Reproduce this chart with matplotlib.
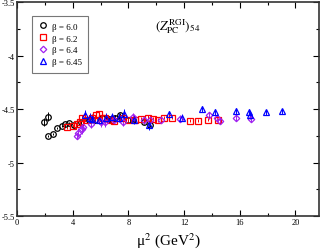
import matplotlib
matplotlib.use("Agg")
import matplotlib.pyplot as plt
from matplotlib.ticker import MultipleLocator

plt.rcParams['font.family'] = ['Liberation Serif', 'DejaVu Serif']
plt.rcParams['mathtext.fontset'] = 'stix'

# beta = 6.0
x60 = [1.95, 2.25, 2.2, 2.6, 2.85, 3.2, 3.45, 3.7, 4.1, 4.6, 5.2, 5.6, 6.1, 6.6, 7.05, 7.4, 8.0, 8.3, 9.1, 9.55]
y60 = [-4.62, -4.57, -4.755, -4.73, -4.68, -4.66, -4.64, -4.63, -4.65, -4.62, -4.6, -4.6, -4.58, -4.59, -4.58, -4.56, -4.6, -4.6, -4.62, -4.65]
e60 = [0.04, 0.04, 0.01, 0.01, 0.01, 0.01, 0.01, 0.01, 0.015, 0.015, 0.015, 0.015, 0.02, 0.02, 0.02, 0.02, 0.02, 0.02, 0.02, 0.02]

# beta = 6.2
x62 = [3.57, 4.05, 4.3, 4.5, 4.65, 5.0, 5.4, 5.7, 5.9, 6.1, 6.3, 6.7, 7.0, 7.6, 8.0, 8.5, 8.9, 9.4, 9.8, 10.1, 10.55, 11.15, 12.45, 13.0, 13.7, 14.4]
y62 = [-4.67, -4.66, -4.64, -4.62, -4.58, -4.6, -4.58, -4.56, -4.55, -4.58, -4.58, -4.6, -4.61, -4.58, -4.6, -4.6, -4.59, -4.58, -4.59, -4.6, -4.58, -4.58, -4.61, -4.61, -4.6, -4.6]
e62 = [0.02, 0.02, 0.02, 0.02, 0.02, 0.02, 0.02, 0.02, 0.02, 0.02, 0.02, 0.02, 0.02, 0.02, 0.02, 0.02, 0.02, 0.02, 0.02, 0.02, 0.015, 0.015, 0.015, 0.015, 0.015, 0.015]

# beta = 6.4
x64 = [4.3, 4.4, 4.65, 4.77, 5.3, 6.0, 6.3, 7.0, 7.6, 8.3, 9.1, 9.57, 10.35, 11.7, 13.8, 14.37, 14.6, 15.7, 16.8]
y64 = [-4.75, -4.72, -4.69, -4.67, -4.64, -4.62, -4.62, -4.6, -4.62, -4.57, -4.6, -4.6, -4.6, -4.59, -4.56, -4.58, -4.61, -4.58, -4.59]
e64 = [0.03, 0.04, 0.04, 0.04, 0.04, 0.05, 0.05, 0.04, 0.04, 0.03, 0.03, 0.03, 0.03, 0.03, 0.03, 0.03, 0.03, 0.03, 0.03]

# beta = 6.45
x645 = [4.9, 5.25, 5.4, 5.9, 6.4, 6.8, 7.3, 7.65, 8.4, 9.45, 10.9, 11.85, 13.3, 14.25, 15.7, 16.65, 16.7, 17.85, 19.05]
y645 = [-4.56, -4.58, -4.59, -4.6, -4.58, -4.57, -4.58, -4.55, -4.6, -4.65, -4.55, -4.58, -4.5, -4.53, -4.52, -4.53, -4.56, -4.53, -4.52]
e645 = [0.05, 0.04, 0.04, 0.04, 0.04, 0.03, 0.04, 0.05, 0.04, 0.05, 0.03, 0.03, 0.03, 0.03, 0.03, 0.03, 0.03, 0.025, 0.025]

labels = ['β = 6.0', 'β = 6.2', 'β = 6.4', 'β = 6.45']
xticks = [0, 4, 8, 12, 16, 20]
yticks = [-5.5, -5, -4.5, -4, -3.5]

fig = plt.figure(figsize=(3.24, 2.53), dpi=100)
ax = fig.add_axes([0.0525, 0.142, 0.9325, 0.846])

series = [
    (x60, y60, e60, 'o', 'black', 4.0),
    (x62, y62, e62, 's', 'red', 4.0),
    (x64, y64, e64, 'D', '#a020f0', 3.3),
    (x645, y645, e645, '^', 'blue', 4.0),
]
handles = []
for (xs, ys, es, m, c, ms), lab in zip(series, labels):
    ax.errorbar(xs, ys, yerr=es, marker=m, color=c, markersize=ms, mew=0.9, mfc='none',
                linestyle='none', elinewidth=0.7, capsize=0)
    h, = ax.plot([], [], marker=m, color=c, markersize=ms, mew=0.9, mfc='none',
                 linestyle='none', label=lab)
    handles.append(h)

ax.set_xlim(0, 21.7)
ax.set_ylim(-5.5, -3.5)
ax.xaxis.set_minor_locator(MultipleLocator(2))
ax.yaxis.set_minor_locator(MultipleLocator(0.25))
ax.set_yticks(yticks)
ax.set_yticklabels([f'{v:g}' for v in yticks])
ax.set_xticks(xticks)
ax.set_xticklabels([str(v) for v in xticks])
ax.tick_params(which='both', direction='in', top=True, right=True, labelsize=6, pad=1.5)
ax.tick_params(which='major', length=4, width=0.8)
ax.tick_params(which='minor', length=2, width=0.8)
for s in ax.spines.values():
    s.set_linewidth(1.2)
    s.set_color('#333333')

ax.set_xlabel('μ$^2$ (GeV$^2$)', fontsize=11, labelpad=3)
ax.text(9.9, -3.72, r'$(Z_{\rm PC}^{\rm RGI})_{54}$', fontsize=9.5, ha='left', va='center')

leg = ax.legend(handles=handles, loc='upper left', bbox_to_anchor=(0.05, 0.935), fontsize=6.5,
                frameon=True, fancybox=False, edgecolor='#555555', handletextpad=0.5,
                borderpad=0.7, labelspacing=0.4, handlelength=1.0, borderaxespad=0)
leg.get_frame().set_linewidth(0.8)

fig.savefig('out.png', dpi=100)
